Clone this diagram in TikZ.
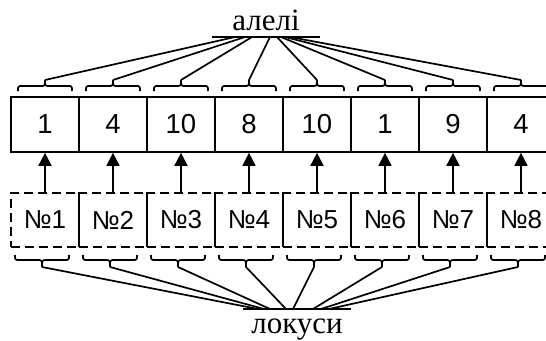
\documentclass[tikz,border=0pt]{standalone}
\usepackage{fontspec}
\setmainfont{Liberation Serif}
\newfontfamily\digitfont{Liberation Sans}
\usetikzlibrary{arrows.meta}

\begin{document}
\begin{tikzpicture}[x=1pt,y=-1pt,line width=1.7pt,
  valbox/.style={draw,minimum width=68pt,minimum height=55pt,inner sep=0pt,
    font=\digitfont\fontsize{27.5}{27.5}\selectfont},
  locbox/.style={draw,dash pattern=on 9pt off 5pt,minimum width=68pt,minimum height=54pt,
    inner sep=0pt,font=\digitfont\fontsize{26}{26}\selectfont},
  caption/.style={font=\fontsize{31}{31}\selectfont,inner sep=0pt,anchor=base},
  uparrow/.style={-{Triangle[length=13pt,width=13pt]}}
]
\useasboundingbox (0,0) rectangle (546,340);
\clip (0,0) rectangle (546,340);

% group captions with their underlines
\node[caption] (alleles) at (266,30) {алелі};
\node[caption] (loci) at (297,333) {локуси};
\coordinate (alL) at (212,37);
\coordinate (alR) at (320,37);
\coordinate (loL) at (243,309);
\coordinate (loR) at (351,309);
\draw (alL) -- (alR);
\draw (loL) -- (loR);

% gathering points on the underlines
\foreach \x [count=\i] in {235,245,252,270,277,281,285,290}
  \coordinate (ua\i) at (\x,37);
\foreach \x [count=\i] in {258,264,270,286,293,313,321,329}
  \coordinate (ub\i) at (\x,309);

% allele values, loci and the arrows between them
\foreach \v [count=\i] in {1,4,10,8,10,1,9,4} {
  \pgfmathsetmacro\cx{45+68*(\i-1)}
  \node[valbox] (v\i) at (\cx,124.5) {\v};
  \node[locbox] (l\i) at (\cx,220) {№\i};
  \draw[uparrow] (l\i) -- (v\i);
  % brace above the allele
  \begin{scope}[shift={(\cx,0)}]
    \draw (-27,91) .. controls (-27,86) .. (-22,86) -- (-5,86)
      .. controls (0,86) .. (0,80) .. controls (0,86) .. (5,86)
      -- (22,86) .. controls (27,86) .. (27,91);
    \coordinate (ta\i) at (0,80);
  \end{scope}
  % brace below the locus
  \begin{scope}[shift={(\cx-3,0)}]
    \draw (-27,255) .. controls (-27,260) .. (-22,260) -- (-5,260)
      .. controls (0,260) .. (0,267) .. controls (0,260) .. (5,260)
      -- (22,260) .. controls (27,260) .. (27,255);
    \coordinate (tb\i) at (0,267);
  \end{scope}
  \draw (ta\i) -- (ua\i);
  \draw (tb\i) -- (ub\i);
}
\end{tikzpicture}
\end{document}
